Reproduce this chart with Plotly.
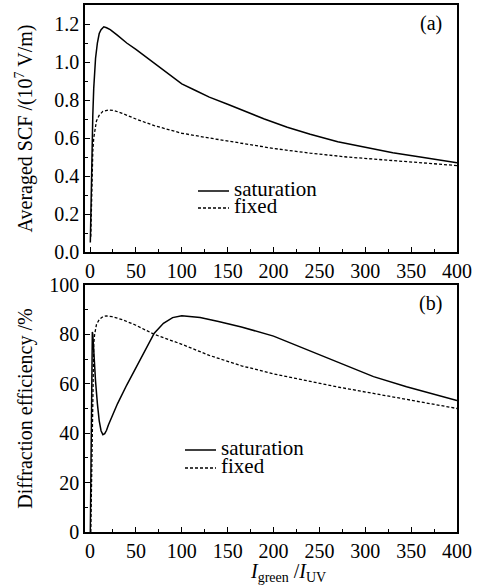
import plotly.graph_objects as go
from plotly.subplots import make_subplots

# ---- Panel (a): averaged space-charge field (10^7 V/m) ----
a_sat_x = [0.3, 1, 2, 3, 4, 5, 6, 8, 10, 12, 15, 18, 22, 30, 40, 50, 60, 70, 80, 90, 100,
           115, 130, 150, 165, 190, 215, 240, 270, 300, 330, 360, 400]
a_sat_y = [0.05, 0.25, 0.52, 0.72, 0.86, 0.95, 1.02, 1.10, 1.15, 1.17, 1.185, 1.18, 1.17, 1.14,
           1.10, 1.066, 1.03, 0.993, 0.955, 0.918, 0.885, 0.85, 0.815, 0.778, 0.748, 0.70,
           0.657, 0.62, 0.58, 0.55, 0.522, 0.50, 0.47]

a_fix_x = [0.8, 1.5, 2, 3, 4, 5, 7, 10, 14, 20, 26, 35, 50, 70, 100, 130, 165, 200, 240,
           280, 320, 360, 400]
a_fix_y = [0.08, 0.30, 0.42, 0.53, 0.60, 0.64, 0.69, 0.72, 0.74, 0.748, 0.745, 0.73, 0.70,
           0.665, 0.625, 0.60, 0.572, 0.545, 0.52, 0.50, 0.485, 0.47, 0.455]

# ---- Panel (b): diffraction efficiency (%) ----
b_sat_x = [0.3, 1, 1.5, 2, 2.5, 3, 4, 5, 6, 8, 10, 12, 14, 16, 18, 20, 25, 30, 40, 50, 60,
           70, 80, 90, 100, 120, 140, 165, 200, 237, 273, 309, 345, 400]
b_sat_y = [0, 35, 65, 79, 81, 80, 73, 66, 61, 52, 45, 41, 39.4, 39.8, 41.2, 43.3, 48, 52,
           59.5, 66.5, 74, 80.5, 84.5, 86.8, 87.5, 86.8, 85.2, 83, 79.3, 73.7, 68.3, 62.9,
           58.8, 53.2]

b_fix_x = [0.8, 1.5, 2, 2.5, 3, 4, 5, 7, 10, 14, 18, 24, 35, 50, 70, 100, 130, 165, 200,
           237, 273, 309, 345, 400]
b_fix_y = [0, 20, 40, 55, 65, 76, 80, 84, 86, 87.2, 87.5, 87.2, 86, 83.7, 80, 76, 71.5,
           67.3, 64, 61.2, 58.5, 56.1, 53.8, 50]

x_ticks = [0, 50, 100, 150, 200, 250, 300, 350, 400]
a_ticks = [0.0, 0.2, 0.4, 0.6, 0.8, 1.0, 1.2]
b_ticks = [0, 20, 40, 60, 80, 100]
legend_labels = ["saturation", "fixed"]

FONT = "Liberation Serif, Times New Roman, Times, serif"
TXT = dict(family=FONT, size=20, color="black")
LEG = dict(family=FONT, size=21, color="black")

fig = make_subplots(rows=2, cols=1, vertical_spacing=0.0626)

solid = dict(color="black", width=1.5)
dashed = dict(color="black", width=1.3, dash="3px,2px")

fig.add_trace(go.Scatter(x=a_sat_x, y=a_sat_y, mode="lines", line=solid,
                         name=legend_labels[0], showlegend=False), row=1, col=1)
fig.add_trace(go.Scatter(x=a_fix_x, y=a_fix_y, mode="lines", line=dashed,
                         name=legend_labels[1], showlegend=False), row=1, col=1)
fig.add_trace(go.Scatter(x=b_sat_x, y=b_sat_y, mode="lines", line=solid,
                         name=legend_labels[0], showlegend=False), row=2, col=1)
fig.add_trace(go.Scatter(x=b_fix_x, y=b_fix_y, mode="lines", line=dashed,
                         name=legend_labels[1], showlegend=False), row=2, col=1)

axis_common = dict(showline=True, mirror=True, linecolor="black", linewidth=1.5,
                   ticks="inside", ticklen=5, tickwidth=1.2, tickcolor="black",
                   showgrid=False, zeroline=False, tickfont=TXT, automargin=False)

fig.update_xaxes(range=[-5.5, 400], tickvals=x_ticks,
                 minor=dict(ticks="inside", ticklen=3, dtick=25, tick0=0, tickcolor="black"),
                 **axis_common)

fig.update_yaxes(range=[0, 1.3], tickvals=a_ticks, tickformat=".1f",
                 minor=dict(ticks="inside", ticklen=3, dtick=0.1, tick0=0, tickcolor="black"),
                 title=dict(text="Averaged SCF /(10<sup>7</sup> V/m)", font=TXT, standoff=16),
                 row=1, col=1, **axis_common)
fig.update_yaxes(range=[0, 100], tickvals=b_ticks,
                 minor=dict(ticks="inside", ticklen=3, dtick=10, tick0=0, tickcolor="black"),
                 title=dict(text="Diffraction efficiency /%", font=TXT, standoff=11),
                 row=2, col=1, **axis_common)

# manual legends (sample line + label), positions in paper coordinates
def px_x(p):
    return (p - 85) / 372.0

def px_y(p):
    return (532 - p) / 527.0

shapes = []
annotations = []
legend_specs = [
    (198, 229, 232, [191, 208]),
    (185, 216, 219, [450, 468]),
]
for x0, x1, xt, ys in legend_specs:
    for lab, yy, ln in zip(legend_labels, ys, [solid, dashed]):
        shapes.append(dict(type="line", xref="paper", yref="paper",
                           x0=px_x(x0), x1=px_x(x1), y0=px_y(yy), y1=px_y(yy),
                           line=ln))
        annotations.append(dict(text=lab, xref="paper", yref="paper",
                                x=px_x(xt), y=px_y(yy - 2), xanchor="left",
                                yanchor="middle", showarrow=False, font=LEG))

annotations += [
    dict(text="(a)", x=0.93, y=0.927, xref="x domain", yref="y domain",
         xanchor="center", yanchor="middle", showarrow=False, font=TXT),
    dict(text="(b)", x=0.93, y=0.927, xref="x2 domain", yref="y2 domain",
         xanchor="center", yanchor="middle", showarrow=False, font=TXT),
    dict(text="<i>I</i><sub>green</sub> /<i>I</i><sub>UV</sub>", xref="paper", yref="paper",
         x=px_x(288), y=px_y(558), xanchor="center", yanchor="top",
         showarrow=False, font=TXT),
]

fig.update_layout(
    width=493, height=588,
    margin=dict(l=85, r=36, t=5, b=56, autoexpand=False),
    paper_bgcolor="white", plot_bgcolor="white",
    font=TXT,
    showlegend=False,
    shapes=shapes,
    annotations=annotations,
)

fig.write_html("out.html", config={"displayModeBar": False},
               post_script="document.body.style.margin='0';")
